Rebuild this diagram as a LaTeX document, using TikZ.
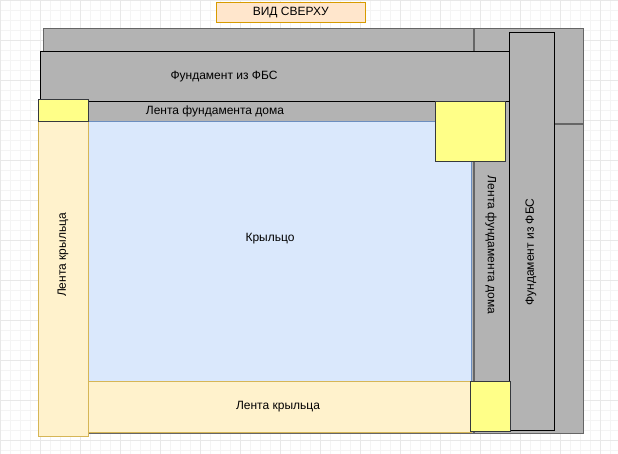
\documentclass[tikz,border=0pt]{standalone}
\usepackage{fontspec}
\setmainfont{Liberation Sans}
\definecolor{cgray}{HTML}{B3B3B3}
\definecolor{cdark}{HTML}{666666}
\definecolor{cyel}{HTML}{FFFF88}
\definecolor{cyelb}{HTML}{36393D}
\definecolor{clk}{HTML}{FFF2CC}
\definecolor{clkb}{HTML}{D6B656}
\definecolor{ckr}{HTML}{DAE8FC}
\definecolor{ckrb}{HTML}{6C8EBF}
\definecolor{ctit}{HTML}{FFE6CC}
\definecolor{ctitb}{HTML}{D79B00}
\definecolor{cgrid}{HTML}{F4F4F4}
\definecolor{cgridm}{HTML}{E8E8E8}
\begin{document}
\begin{tikzpicture}[x=1pt,y=-1pt,
 gr/.style={fill=cgray,draw=cdark,line width=1.4pt},
 fbs/.style={fill=cgray,draw=black,line width=0.8pt},
 yel/.style={fill=cyel,draw=cyelb,line width=0.8pt},
 lk/.style={fill=clk,draw=clkb,line width=0.8pt},
 txt/.style={font=\fontsize{12}{14}\selectfont,inner sep=0pt}]
\useasboundingbox (0,0) rectangle (618,454);
\fill[white] (0,0) rectangle (618,454);
\foreach \i in {0,10,...,610} \draw[cgrid,line width=0.5pt] (\i,0) -- (\i,454);
\foreach \i in {0,10,...,450} \draw[cgrid,line width=0.5pt] (0,\i) -- (618,\i);
\foreach \i in {0,40,...,600} \draw[cgridm,line width=0.8pt] (\i,0) -- (\i,454);
\foreach \i in {0,40,...,440} \draw[cgridm,line width=0.8pt] (0,\i) -- (618,\i);
\node[draw=ctitb,fill=ctit,minimum width=149pt,minimum height=20pt,anchor=north west,txt] (title) at (216,2) {ВИД СВЕРХУ};
\node[gr,minimum width=540pt,minimum height=405pt,anchor=north west,inner sep=0pt] (outer) at (43,28) {};
\draw[cdark,line width=1.4pt] (474,28) -- (474,433);
\draw[cdark,line width=1.4pt] (474,124) -- (583,124);
\node[fill=cgray,minimum width=35pt,minimum height=332pt,anchor=north west,inner sep=0pt] (ldv) at (475,101) {};
\node[txt,rotate=-90] (ldvt) at (491,245) {Лента фундамента дома};
\node[fbs,minimum width=471pt,minimum height=50pt,anchor=north west,inner sep=0pt] (ftop) at (40,51) {};
\node[txt] (ftopt) at (224,77) {Фундамент из ФБС};
\node[fbs,minimum width=45pt,minimum height=398pt,anchor=north west,inner sep=0pt] (fr) at (509,32) {};
\node[txt,rotate=90] (frt) at (531,252) {Фундамент из ФБС};
\node[txt] (ldht) at (215,111) {Лента фундамента дома};
\node[fill=ckr,draw=ckrb,line width=0.8pt,minimum width=383pt,minimum height=260pt,anchor=north west,inner sep=0pt] (kr) at (88,121) {};
\node[txt] (krt) at (270,239) {Крыльцо};
\node[lk,minimum width=50pt,minimum height=337pt,anchor=north west,inner sep=0pt] (lkl) at (38,99) {};
\node[txt,rotate=90] (lklt) at (63,255) {Лента крыльца};
\node[lk,minimum width=383pt,minimum height=51pt,anchor=north west,inner sep=0pt] (lkb) at (88,381) {};
\node[txt] (lkbt) at (278,407) {Лента крыльца};
\node[yel,minimum width=50pt,minimum height=22pt,anchor=north west,inner sep=0pt] (y1) at (38,99) {};
\node[yel,minimum width=70pt,minimum height=60pt,anchor=north west,inner sep=0pt] (y2) at (435,101) {};
\node[yel,minimum width=40pt,minimum height=50pt,anchor=north west,inner sep=0pt] (y3) at (470,381) {};
\end{tikzpicture}
\end{document}
